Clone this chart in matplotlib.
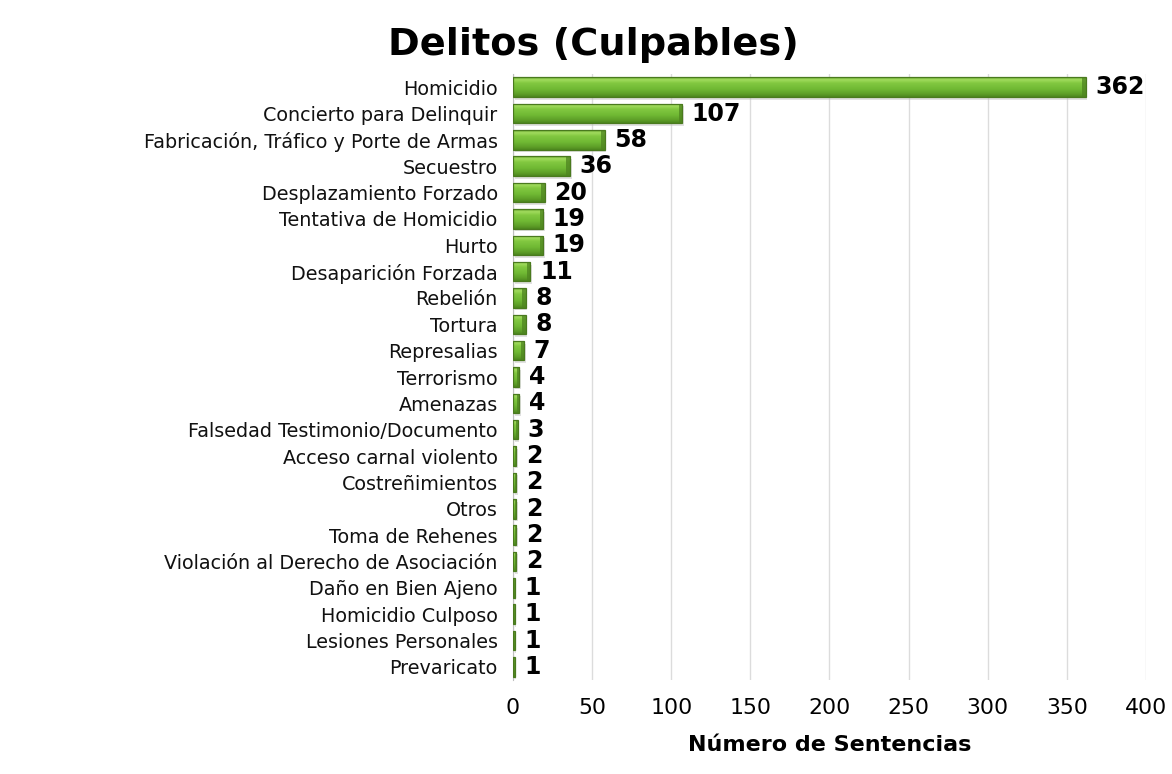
import numpy as np
import matplotlib
matplotlib.use('Agg')
import matplotlib.pyplot as plt
from matplotlib.colors import LinearSegmentedColormap

plt.rcParams['font.family'] = 'DejaVu Sans'

# Data (top to bottom)
delitos = ['Homicidio', 'Concierto para Delinquir', 'Fabricación, Tráfico y Porte de Armas',
           'Secuestro', 'Desplazamiento Forzado', 'Tentativa de Homicidio', 'Hurto',
           'Desaparición Forzada', 'Rebelión', 'Tortura', 'Represalias', 'Terrorismo',
           'Amenazas', 'Falsedad Testimonio/Documento', 'Acceso carnal violento',
           'Costreñimientos', 'Otros', 'Toma de Rehenes',
           'Violación al Derecho de Asociación', 'Daño en Bien Ajeno',
           'Homicidio Culposo', 'Lesiones Personales', 'Prevaricato']
sentencias = [362, 107, 58, 36, 20, 19, 19, 11, 8, 8, 7, 4, 4, 3, 2, 2, 2, 2, 2, 1, 1, 1, 1]
xticks = [0, 50, 100, 150, 200, 250, 300, 350, 400]

fig = plt.figure(figsize=(11.72, 7.74), dpi=100)
ax = fig.add_axes([0.4377, 0.1214, 0.5401, 0.783])

y = np.arange(len(delitos))
h = 0.74

# soft shadow under the bars
ax.barh(y + 0.1, sentencias, height=h, left=1.0, color='#bdbdbd', alpha=0.45,
        edgecolor='none', zorder=2)
bars = ax.barh(y, sentencias, height=h, color='#77c23a', edgecolor='none', zorder=3)

# vertical gradient inside each bar (light top, darker bottom)
cmap = LinearSegmentedColormap.from_list(
    'g', [(0.0, '#6aa832'), (0.12, '#a2dc5e'), (0.3, '#82c840'),
          (0.6, '#70b934'), (0.85, '#5e9f28'), (1.0, '#4c861e')])
grad = np.linspace(0, 1, 64).reshape(-1, 1)
for b in bars:
    x0, y0 = b.get_x(), b.get_y()
    w, hh = b.get_width(), b.get_height()
    im = ax.imshow(grad, extent=[x0, x0 + w, y0 + hh, y0], aspect='auto',
                   cmap=cmap, origin='upper', zorder=3.5, interpolation='bilinear')
    im.set_clip_path(b)
    cap = min(2.2, w * 0.35)
    ax.barh(y0 + hh / 2, cap, height=hh, left=x0 + w - cap, color='#4e8420',
            alpha=0.75, edgecolor='none', zorder=3.6)

# dark outline on top of the gradient
ax.barh(y, sentencias, height=h, fill=False, edgecolor='#4a7a1e', linewidth=0.9, zorder=3.8)

for yi, v in zip(y, sentencias):
    ax.text(v + 6, yi, str(v), va='center', ha='left', fontsize=17,
            fontweight='bold', color='black', zorder=5)

ax.set_xlim(0, 400)
ax.set_ylim(len(delitos) - 0.5, -0.5)
ax.set_yticks(y)
ax.set_yticklabels(delitos, fontsize=13.8, color='#111111')
ax.set_xticks(xticks)
ax.set_xticklabels([str(t) for t in xticks], fontsize=15.8)
ax.tick_params(axis='both', length=0)
ax.tick_params(axis='y', pad=11)
ax.tick_params(axis='x', pad=13)
ax.grid(axis='x', color='#dcdcdc', linewidth=1, zorder=0)
ax.set_axisbelow(True)
for s in ['top', 'right', 'bottom']:
    ax.spines[s].set_visible(False)
ax.spines['left'].set_color('#bfbfbf')

ax.set_xlabel('Número de Sentencias', fontsize=16, fontweight='bold', labelpad=12)
fig.text(0.506, 0.942, 'Delitos (Culpables)', ha='center', va='center',
         fontsize=27.5, fontweight='bold')

fig.savefig('out.png', dpi=100)
